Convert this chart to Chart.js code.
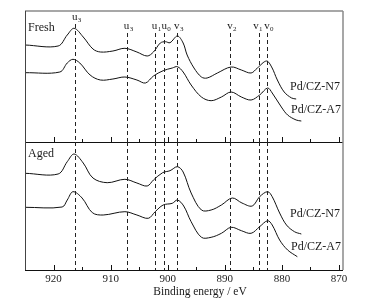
<!DOCTYPE html>
<html>
<head>
<meta charset="utf-8">
<script src="https://cdn.jsdelivr.net/npm/chart.js@4.4.0/dist/chart.umd.min.js"></script>
<style>
  html, body { margin: 0; padding: 0; background: #fff; }
  #wrap { position: relative; width: 368px; height: 307px; }
  .panel { position: absolute; left: 0; width: 368px; }
  #topBox { top: 0; height: 144px; }
  #botBox { top: 142px; height: 165px; }
</style>
</head>
<body>
<div id="wrap">
  <div class="panel" id="topBox"><canvas id="topChart"></canvas></div>
  <div class="panel" id="botBox"><canvas id="botChart"></canvas></div>
</div>
<script>
// Binding energy axis (eV), reversed
const xMin = 869.3;
const xMax = 925;
const majorTicks = [920, 910, 900, 890, 880, 870];
const minorTicks = [915, 905, 895, 885, 875];

// Ce 3d peak markers
const peakPos = [916.3, 907.2, 902.3, 900.6, 898.4, 889.1, 884.1, 882.6];
const peakBase = ['u', 'u', 'u', 'u', 'v', 'v', 'v', 'v'];
const peakSub = ['3', '3', '1', '0', '3', '2', '1', '0'];

// Fresh, Pd/CZ-N7
const freshN7E = [925, 919.2, 917.6, 916.4, 914.8, 913.1, 911.8, 909.6, 907.5, 905.4, 903.6, 902.5, 901.3, 900.4, 899.6, 898.3, 897.3, 896.6, 895.4, 894.1, 893.1, 891.3, 888.9, 887.1, 885.4, 884.3, 882.7, 881.8, 880.8, 879.6, 878.3, 877.5];
const freshN7I = [97, 96, 107, 113.7, 105, 93, 90, 91, 93.7, 90, 86, 90, 99, 100.3, 99.3, 106, 99, 87, 74, 65, 64, 69, 75, 72, 69, 74, 81, 75, 62, 50, 44, 43];

// Fresh, Pd/CZ-A7
const freshA7E = [925, 918.9, 917.6, 916.6, 915.4, 913.6, 911.8, 909.6, 907.5, 905.4, 903.9, 902.5, 900.8, 899.2, 898.3, 897.3, 895.9, 894.1, 892.4, 890.6, 888.9, 887.1, 885.4, 883.9, 882.5, 881.7, 880.1, 879.0, 877.5, 876.6];
const freshA7I = [69.3, 70, 79, 82.7, 79, 67, 62, 63, 65, 62, 59, 66, 71.3, 74, 75.3, 70, 57, 45, 41.3, 45, 50, 45, 42, 47, 54, 49, 35, 27, 22, 21];

// Aged, Pd/CZ-N7
const agedN7E = [925, 919.2, 917.6, 916.4, 914.8, 913.1, 910.6, 907.5, 905.4, 903.6, 902.5, 900.9, 899.6, 898.3, 897.3, 895.9, 894.1, 892.4, 890.6, 888.7, 887.0, 885.2, 883.9, 882.5, 881.7, 880.4, 879.2, 877.8, 876.6];
const agedN7I = [96.7, 96, 108.3, 116, 107, 92, 87.3, 90.7, 87, 84, 90, 97.3, 99.3, 103.3, 98, 77, 60, 60, 65, 72, 67, 64, 73.3, 78.3, 73.3, 57, 45, 38.3, 36];

// Aged, Pd/CZ-A7
const agedA7E = [925, 918.5, 917.6, 916.6, 915.0, 913.2, 911.3, 907.5, 905.4, 903.4, 902.2, 900.8, 899.2, 898.3, 897.2, 895.9, 894.1, 892.4, 890.6, 888.9, 887.1, 885.4, 883.9, 882.5, 881.7, 880.4, 879.0, 877.3];
const agedA7I = [62.7, 63, 70, 78.3, 72, 57.3, 55, 58.3, 55, 51.7, 58.3, 65, 66.7, 70, 64, 48.3, 32.7, 32.7, 36.7, 42.7, 39.3, 36.7, 43.3, 49.3, 45, 30, 20, 13.3];

const serif = '"Liberation Serif", "DejaVu Serif", serif';

function toPoints(es, is) {
    return es.map((e, i) => ({ x: e, y: is[i] }));
}

function lineSet(es, is) {
    return {
        data: toPoints(es, is),
        borderColor: '#111',
        borderWidth: 1,
        pointRadius: 0,
        tension: 0.35,
        fill: false
    };
}

// Frame, inward ticks, dashed markers and text labels
const panelPlugin = {
    id: 'panel',
    afterDatasetsDraw(chart, args, opts) {
        const ctx = chart.ctx;
        const area = chart.chartArea;
        const xs = chart.scales.x;
        ctx.save();

        // dashed marker lines
        ctx.strokeStyle = '#222';
        ctx.lineWidth = 1;
        ctx.setLineDash([4, 3]);
        peakPos.forEach((p, i) => {
            const px = Math.round(xs.getPixelForValue(p)) + 0.5;
            let y0 = area.top;
            if (opts.isTop) y0 = i === 0 ? 24 : 33;
            ctx.beginPath();
            ctx.moveTo(px, y0);
            ctx.lineTo(px, area.bottom);
            ctx.stroke();
        });
        ctx.setLineDash([]);

        // frame
        ctx.lineWidth = 1.5;
        ctx.strokeStyle = '#8a8a8a';
        ctx.beginPath();
        if (opts.isTop) {
            ctx.moveTo(area.left, area.top);
            ctx.lineTo(area.right, area.top);
        }
        ctx.moveTo(area.right, area.top);
        ctx.lineTo(area.right, area.bottom);
        ctx.stroke();
        ctx.strokeStyle = '#444';
        ctx.lineWidth = 1;
        ctx.beginPath();
        ctx.moveTo(area.left + 0.5, area.top);
        ctx.lineTo(area.left + 0.5, area.bottom);
        ctx.stroke();
        ctx.strokeStyle = '#111';
        ctx.beginPath();
        ctx.moveTo(area.left, area.bottom + 0.5);
        ctx.lineTo(area.right, area.bottom + 0.5);
        ctx.stroke();

        // inward ticks
        ctx.beginPath();
        majorTicks.forEach(v => {
            const px = Math.round(xs.getPixelForValue(v)) + 0.5;
            ctx.moveTo(px, area.bottom);
            ctx.lineTo(px, area.bottom - 5);
        });
        minorTicks.forEach(v => {
            const px = Math.round(xs.getPixelForValue(v)) + 0.5;
            ctx.moveTo(px, area.bottom);
            ctx.lineTo(px, area.bottom - 3);
        });
        ctx.stroke();

        // text
        ctx.fillStyle = '#1a1a1a';
        ctx.textBaseline = 'middle';
        if (opts.isTop) {
            peakPos.forEach((p, i) => {
                // v1 sits just left of its line in the original
                const px = xs.getPixelForValue(p) - (i === 6 ? 2.5 : 0);
                const y = i === 0 ? 17.5 : 26.5;
                ctx.font = '11px ' + serif;
                ctx.textAlign = 'center';
                ctx.fillText(peakBase[i], px, y);
                const w = ctx.measureText(peakBase[i]).width;
                ctx.font = '7px ' + serif;
                ctx.textAlign = 'left';
                ctx.fillText(peakSub[i], px + w / 2 + 0.3, y + 3);
            });
        }
        ctx.font = '12px ' + serif;
        ctx.textAlign = 'left';
        ctx.fillText(opts.name, 28, opts.nameY);
        ctx.fillText('Pd/CZ-N7', 290, opts.n7Y);
        ctx.fillText('Pd/CZ-A7', 291, opts.a7Y);

        if (!opts.isTop) {
            ctx.font = '11.5px ' + serif;
            ctx.textAlign = 'center';
            ctx.fillText('Binding energy / eV', 200, 150);
        }
        ctx.restore();
    }
};

function xScale(showLabels) {
    const s = {
        type: 'linear',
        min: xMin,
        max: xMax,
        reverse: true,
        display: showLabels,
        afterBuildTicks: sc => { sc.ticks = majorTicks.map(v => ({ value: v })); },
        border: { display: false },
        grid: { drawOnChartArea: false, drawTicks: false },
        ticks: {
            padding: 3,
            color: '#222',
            font: { family: serif, size: 11 },
            maxRotation: 0,
            callback: v => String(v)
        }
    };
    if (showLabels) s.afterFit = sc => { sc.height = 37; };
    return s;
}

function makeChart(id, sets, yMax, isTop, panelOpts) {
    return new Chart(document.getElementById(id), {
        type: 'line',
        data: { datasets: sets },
        options: {
            responsive: true,
            maintainAspectRatio: false,
            animation: false,
            parsing: false,
            layout: { padding: isTop ? { left: 25, right: 25, top: 11, bottom: 2 } : { left: 25, right: 25, top: 0, bottom: 0 } },
            scales: {
                x: xScale(!isTop),
                y: { display: false, min: 0, max: yMax }
            },
            plugins: {
                legend: { display: false },
                tooltip: { enabled: false },
                panel: Object.assign({ isTop: isTop }, panelOpts)
            }
        },
        plugins: [panelPlugin]
    });
}

makeChart('topChart', [lineSet(freshN7E, freshN7I), lineSet(freshA7E, freshA7I)], 131, true,
    { name: 'Fresh', nameY: 28, n7Y: 87, a7Y: 110 });
makeChart('botChart', [lineSet(agedN7E, agedN7I), lineSet(agedA7E, agedA7I)], 128, false,
    { name: 'Aged', nameY: 12, n7Y: 72, a7Y: 105 });
</script>
</body>
</html>
